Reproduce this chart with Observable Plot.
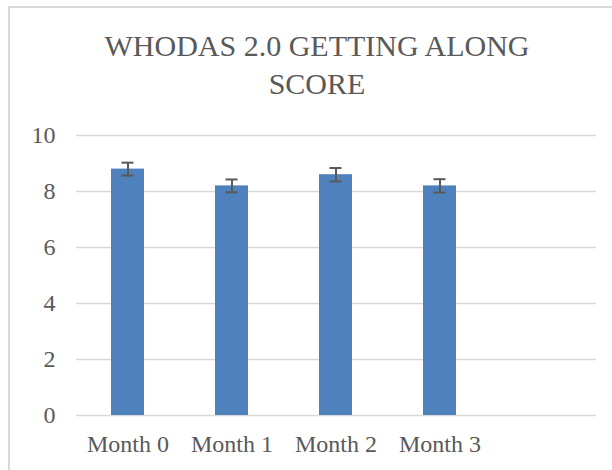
<!DOCTYPE html>
<html>
<head>
<meta charset="utf-8">
<script src="https://cdn.jsdelivr.net/npm/d3@7"></script>
<script src="https://cdn.jsdelivr.net/npm/@observablehq/plot@0.6"></script>
<style>
  html, body { margin: 0; padding: 0; background: #fff; }
  body { width: 612px; height: 470px; overflow: hidden; position: relative; }
  #title {
    position: absolute; left: 0; top: 27px; width: 634px;
    text-align: center; font-family: "Liberation Serif", serif;
    font-size: 30px; line-height: 38px; color: #595959;
  }
  #chart { position: absolute; left: 0; top: 110px; }
  #frame {
    position: absolute; left: 8px; top: 6px; width: 800px; height: 800px;
    border-left: 2px solid #d9d9d9; border-top: 2px solid #d9d9d9;
    pointer-events: none;
  }
</style>
</head>
<body>
<div id="title">WHODAS 2.0 GETTING ALONG<br>SCORE</div>
<div id="chart"></div>
<div id="frame"></div>
<script>
const months = ["Month 0", "Month 1", "Month 2", "Month 3"];
const scores = [8.8, 8.2, 8.6, 8.2];
const errors = [0.23, 0.23, 0.24, 0.24];
const yTicks = [0, 2, 4, 6, 8, 10];
const xSlots = ["Month 0", "Month 1", "Month 2", "Month 3", ""];

const data = months.map((m, i) => ({month: m, score: scores[i], err: errors[i]}));

const chart = Plot.plot({
  width: 612,
  height: 360,
  marginTop: 25,
  marginBottom: 55,
  marginLeft: 76,
  marginRight: 16,
  style: {fontFamily: "'Liberation Serif', serif", fontSize: "24px", color: "#595959", background: "transparent"},
  x: {domain: xSlots, paddingInner: 0.68, paddingOuter: 0.34, label: null, tickSize: 0, tickPadding: 19},
  y: {domain: [0, 10], ticks: yTicks, label: null, tickSize: 0, tickPadding: 21},
  marks: [
    Plot.gridY(yTicks, {stroke: "#d9d9d9", strokeOpacity: 1, strokeWidth: 1.5}),
    Plot.barY(data, {x: "month", y: "score", fill: "#4f81bd"}),
    Plot.ruleX(data, {x: "month", y1: d => d.score - d.err, y2: d => d.score + d.err, stroke: "#595959", strokeWidth: 2}),
    Plot.tickY(data, {x: "month", y: d => d.score + d.err, stroke: "#595959", strokeWidth: 2, insetLeft: 10.5, insetRight: 10.5}),
    Plot.tickY(data, {x: "month", y: d => d.score - d.err, stroke: "#595959", strokeWidth: 2, insetLeft: 10.5, insetRight: 10.5})
  ]
});
document.getElementById("chart").appendChild(chart);
</script>
</body>
</html>
